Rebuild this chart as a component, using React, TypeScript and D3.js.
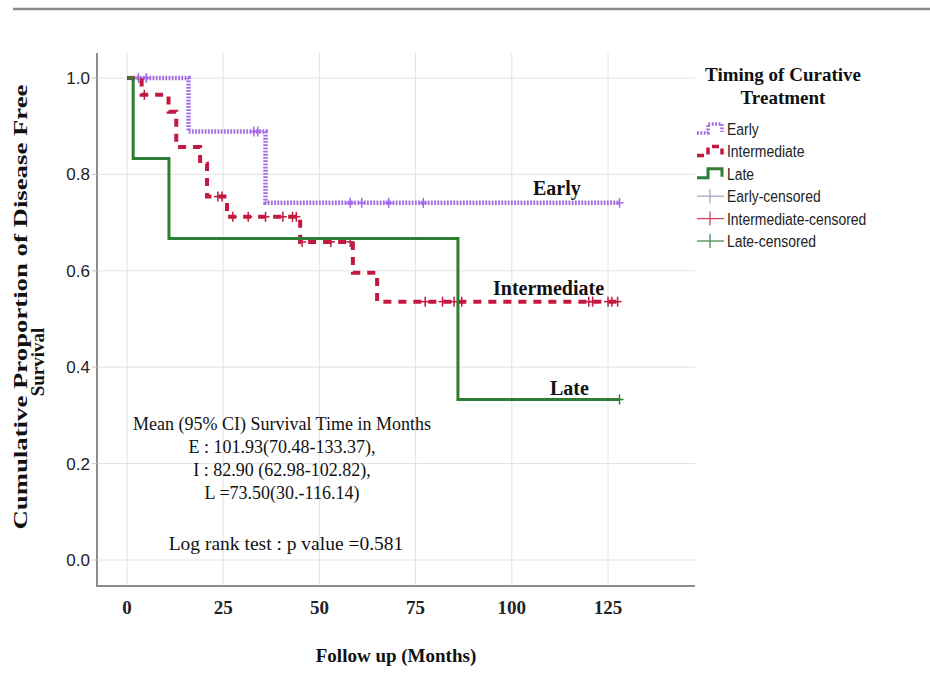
import React from "react";
import * as d3 from "d3";

const xTicks = [0, 25, 50, 75, 100, 125];
const yTicks = [0, 0.2, 0.4, 0.6, 0.8, 1.0];

// Kaplan-Meier steps: time of each drop and the survival after it
const earlyTimes = [0, 16, 36, 128];
const earlySurv = [1, 0.889, 0.741, 0.741];
const earlyCensored = [3, 5, 33, 34, 58, 61, 68, 77, 128];

const interTimes = [0, 3.8, 10.8, 12.8, 19, 20.8, 26, 45, 58.7, 65, 127.8];
const interSurv = [1, 0.965, 0.93, 0.857, 0.822, 0.754, 0.712, 0.66, 0.596, 0.536, 0.536];
const interCensored = [4.5, 23.6, 24.7, 27.5, 31.5, 36, 40.5, 43, 44, 45.5, 53, 58, 77.5, 82, 85, 87, 120, 121, 125, 126, 127.5];

const lateTimes = [0, 1.6, 10.9, 86, 128];
const lateSurv = [1, 0.833, 0.667, 0.333, 0.333];
const lateCensored = [128];

const groupNames = ["Early", "Intermediate", "Late"];
const legendItems = ["Early", "Intermediate", "Late", "Early-censored", "Intermediate-censored", "Late-censored"];

const annotationLines = [
  "Mean (95% CI) Survival Time in Months",
  "E : 101.93(70.48-133.37),",
  "I : 82.90 (62.98-102.82),",
  "L =73.50(30.-116.14)",
];
const logRankText = "Log rank test : p value =0.581";

const colors = { Early: "#a46ae6", Intermediate: "#c3183f", Late: "#2f7d32" };
const censorColors = { Early: "#a9a3c6", Intermediate: "#d0405f", Late: "#4f8a50" };
const dashes = { Early: "1.8,1.4", Intermediate: "8,7", Late: null };
const widths = { Early: 4.5, Intermediate: 4, Late: 3 };

const series = [
  { name: "Early", times: earlyTimes, surv: earlySurv, censored: earlyCensored, label: [533, 195] },
  { name: "Intermediate", times: interTimes, surv: interSurv, censored: interCensored, label: [493, 295] },
  { name: "Late", times: lateTimes, surv: lateSurv, censored: lateCensored, label: [550, 395] },
];

const serif = "'Liberation Serif', 'Times New Roman', serif";
const sans = "'Liberation Sans', Arial, sans-serif";

export default function App() {
  const W = 930;
  const H = 680;
  const x = d3.scaleLinear().domain([0, 125]).range([127, 608]);
  const y = d3.scaleLinear().domain([0, 1]).range([560, 78]);
  const axisLeft = 97;
  const axisBottom = 586;
  const plotTop = 53;
  const plotRight = 695;

  const line = d3
    .line<[number, number]>()
    .x((d) => x(d[0]))
    .y((d) => y(d[1]))
    .curve(d3.curveStepAfter);

  const survAt = (times: number[], surv: number[], t: number) => {
    let s = surv[0];
    for (let i = 0; i < times.length; i++) if (times[i] <= t) s = surv[i];
    return s;
  };

  return (
    <svg width={W} height={H} style={{ display: "block", position: "absolute", left: 0, top: 0 }}>
      <rect width={W} height={H} fill="#fff" />
      <line x1={13} x2={930} y1={9} y2={9} stroke="#8a8a8a" strokeWidth={2.5} />

      {/* grid */}
      {xTicks.map((t) => (
        <line key={"gx" + t} x1={x(t)} x2={x(t)} y1={plotTop} y2={axisBottom} stroke="#e2e2e2" strokeWidth={1} />
      ))}
      {yTicks.map((t) => (
        <line key={"gy" + t} x1={axisLeft} x2={plotRight} y1={y(t)} y2={y(t)} stroke="#e2e2e2" strokeWidth={1} />
      ))}

      {/* axes */}
      <line x1={axisLeft} x2={axisLeft} y1={plotTop} y2={axisBottom + 1} stroke="#8c8c8c" strokeWidth={2} />
      <line x1={axisLeft} x2={plotRight} y1={axisBottom} y2={axisBottom} stroke="#8c8c8c" strokeWidth={2} />
      {yTicks.map((t) => (
        <g key={"ty" + t}>
          <line x1={axisLeft - 5} x2={axisLeft} y1={y(t)} y2={y(t)} stroke="#c8c8c8" />
          <text x={90} y={y(t) + 6} textAnchor="end" fontFamily={sans} fontSize={17} fill="#222">
            {d3.format(".1f")(t)}
          </text>
        </g>
      ))}
      {xTicks.map((t) => (
        <text key={"tx" + t} x={x(t)} y={614} textAnchor="middle" fontFamily={serif} fontWeight="bold" fontSize={19} fill="#222">
          {t}
        </text>
      ))}

      {/* axis titles */}
      <text x={396} y={662} textAnchor="middle" fontFamily={serif} fontWeight="bold" fontSize={19} fill="#111">
        Follow up (Months)
      </text>
      <text
        transform="translate(27,307) rotate(-90)"
        textAnchor="middle"
        fontFamily={serif}
        fontWeight="bold"
        fontSize={18}
        fill="#111"
        textLength={445}
        lengthAdjust="spacingAndGlyphs"
      >
        Cumulative Proportion of Disease Free
      </text>
      <text transform="translate(44,362) rotate(-90)" textAnchor="middle" fontFamily={serif} fontWeight="bold" fontSize={19} fill="#111">
        Survival
      </text>

      {/* curves */}
      {series.map((s) => {
        const pts = s.times.map((t, i) => [t, s.surv[i]] as [number, number]);
        const c = colors[s.name];
        return (
          <g key={s.name}>
            <path
              d={line(pts) || ""}
              fill="none"
              stroke={c}
              strokeWidth={widths[s.name]}
              strokeDasharray={dashes[s.name] || undefined}
            />
            {s.censored.map((t, i) => {
              const sy = y(survAt(s.times, s.surv, t));
              return (
                <g key={i} stroke={c} strokeWidth={1.5}>
                  <line x1={x(t)} x2={x(t)} y1={sy - 5} y2={sy + 5} />
                  <line x1={x(t) - 4} x2={x(t) + 4} y1={sy} y2={sy} />
                </g>
              );
            })}
          </g>
        );
      })}

      {/* curve labels */}
      {series.map((s) => (
        <text key={"l" + s.name} x={s.label[0]} y={s.label[1]} fontFamily={serif} fontWeight="bold" fontSize={20} fill="#111">
          {s.name}
        </text>
      ))}

      {/* annotation */}
      {annotationLines.map((t, i) => (
        <text key={"a" + i} x={282} y={430 + i * 23} textAnchor="middle" fontFamily={serif} fontSize={18} fill="#111">
          {t}
        </text>
      ))}
      <text x={286} y={550} textAnchor="middle" fontFamily={serif} fontSize={19.5} fill="#111">
        {logRankText}
      </text>

      {/* legend */}
      <text x={783} y={81} textAnchor="middle" fontFamily={serif} fontWeight="bold" fontSize={19} fill="#111">
        Timing of Curative
      </text>
      <text x={783} y={104} textAnchor="middle" fontFamily={serif} fontWeight="bold" fontSize={19} fill="#111">
        Treatment
      </text>
      {legendItems.map((name, i) => {
        const cy = 129 + i * 22.4;
        const isGroup = i < 3;
        const g = groupNames[i % 3];
        return (
          <g key={"lg" + name}>
            {isGroup ? (
              <path
                d={`M697,${cy + 4}H708V${cy - 5}H722V${cy + 3}`}
                fill="none"
                stroke={colors[g]}
                strokeWidth={g === "Late" ? 3 : 3.5}
                strokeDasharray={g === "Early" ? "1.8,1.6" : g === "Intermediate" ? "7,5" : undefined}
              />
            ) : (
              <g stroke={censorColors[g]} strokeWidth={1.3}>
                <line x1={697} x2={724} y1={cy} y2={cy} />
                <line x1={710} x2={710} y1={cy - 7} y2={cy + 7} />
              </g>
            )}
            <text
              transform={`translate(727,${cy + 6}) scale(0.82,1)`}
              fontFamily={sans}
              fontSize={17}
              fill="#222"
            >
              {name}
            </text>
          </g>
        );
      })}
    </svg>
  );
}
